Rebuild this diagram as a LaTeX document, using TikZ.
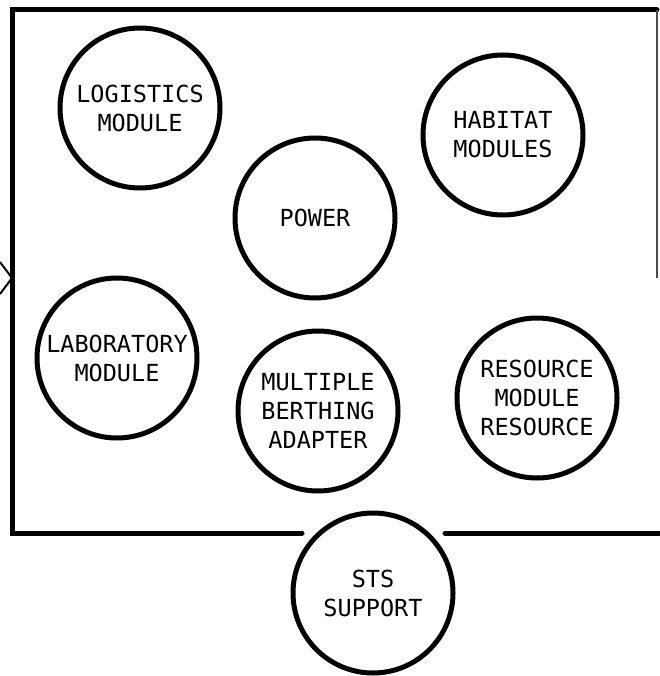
\documentclass[tikz,border=0pt]{standalone}
\usepackage{fontspec}
\setmonofont{DejaVu Sans Mono}

\begin{document}
\begin{tikzpicture}
[x=1pt,y=-1pt,
module/.style={circle,draw=black,line width=5pt,minimum size=160pt,inner sep=0pt,align=center,font=\ttfamily\fontsize{23.5}{29}\selectfont},
frame/.style={draw=black,line width=5pt,line cap=round}]
\useasboundingbox (0,0) rectangle (659,676);

% frame
\draw[frame] (302,533) -- (12,533) -- (12,10) -- (657,10);
\draw[frame] (445,533) -- (659,533);
\draw[draw=black!70,line width=1.5pt] (657,10) -- (657,278);
\draw[line width=2pt] (0,262) -- (12,278) -- (0,294);

% modules
\node[module] (logistics) at (140,108) {LOGISTICS\\MODULE};
\node[module] (habitat) at (503,135) {HABITAT\\MODULES};
\node[module] (power) at (315,218) {POWER};
\node[module] (laboratory) at (117,358) {LABORATORY\\MODULE};
\node[module] (berthing) at (318,411) {MULTIPLE\\BERTHING\\ADAPTER};
\node[module] (resource) at (537,398) {RESOURCE\\MODULE\\RESOURCE};
\node[module] (sts) at (373,593) {STS\\SUPPORT};

\end{tikzpicture}
\end{document}
